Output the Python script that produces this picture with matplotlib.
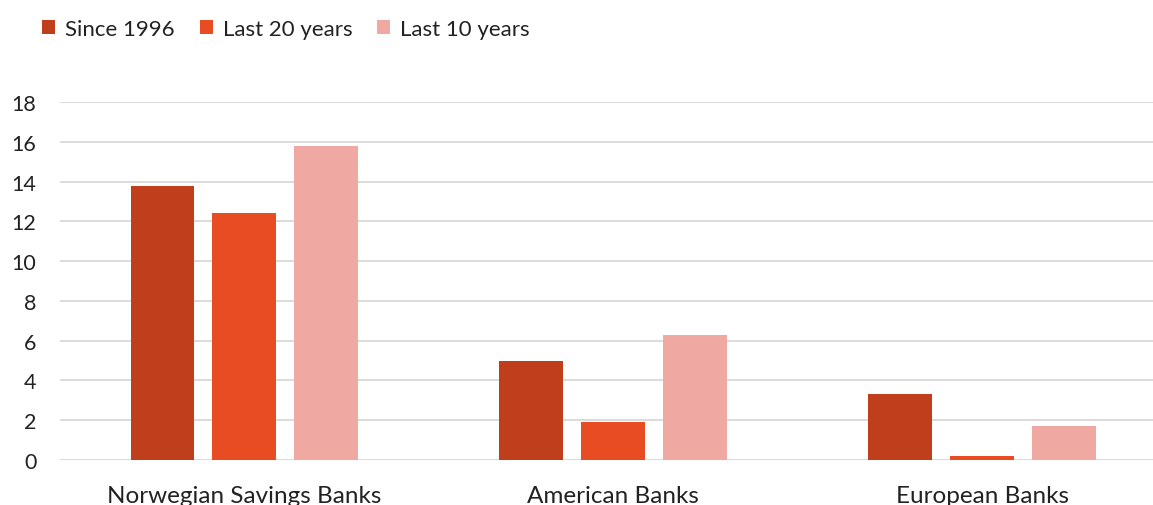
import matplotlib
matplotlib.use("Agg")
import matplotlib.pyplot as plt
import numpy as np

plt.rcParams['font.family'] = ['Lato', 'DejaVu Sans']

# return by bank group and period
categories = ["Norwegian Savings Banks", "American Banks", "European Banks"]
series_names = ["Since 1996", "Last 20 years", "Last 10 years"]
since_1996 = [13.8, 5.0, 3.3]
last_20 = [12.4, 1.9, 0.2]
last_10 = [15.8, 6.3, 1.7]
yticks = [0, 2, 4, 6, 8, 10, 12, 14, 16, 18]

colors = ["#BF3E1B", "#E84C22", "#EFA8A2"]

fig = plt.figure(figsize=(11.53, 5.06), dpi=100)
ax = fig.add_axes([0.052, 0.0889, 0.948, 0.7075])

x = np.arange(len(categories))
w = 0.173
step = 0.222
for i, (vals, name) in enumerate(zip([since_1996, last_20, last_10], series_names)):
    ax.bar(x + (i - 1) * step, vals, width=w, color=colors[i], label=name, zorder=3)

ax.set_xlim(-0.5, 2.463)
ax.set_ylim(0, 18)
ax.set_yticks(yticks)
ax.set_yticklabels([str(t) for t in yticks], fontsize=15.5, color='#222222')
ax.set_xticks(x)
ax.set_xticklabels(categories, fontsize=17.5, color='#222222')
ax.tick_params(axis='y', length=0, pad=17)
ax.tick_params(axis='x', length=0, pad=18)
ax.grid(axis='y', color='#D9D9D9', linewidth=1.3, zorder=0)
for s in ax.spines.values():
    s.set_visible(False)

leg = fig.legend(loc='upper left', bbox_to_anchor=(0.024, 0.99), ncol=3, frameon=False,
                 fontsize=16, handlelength=0.6, handleheight=0.6, handletextpad=0.45,
                 columnspacing=1.1, borderaxespad=0.25)
for t in leg.get_texts():
    t.set_color('#222222')

fig.savefig("out.png", dpi=100)
